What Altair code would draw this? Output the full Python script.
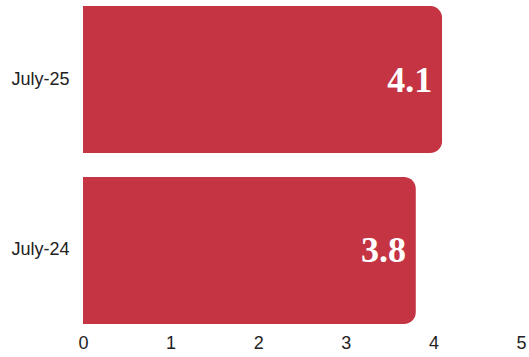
import altair as alt
import pandas as pd

categories = ["July-25", "July-24"]
values = [4.1, 3.8]
labels = ["4.1", "3.8"]

df = pd.DataFrame({"period": categories, "value": values, "label": labels})

y = alt.Y("period:N", sort=categories, title=None,
          scale=alt.Scale(paddingInner=0.14, paddingOuter=0.035),
          axis=alt.Axis(domain=False, ticks=False, labelPadding=14, labelFontSize=18,
                        labelColor="#222", labelFont="Liberation Sans"))
x = alt.X("value:Q", title=None, scale=alt.Scale(domain=[0, 5], nice=False),
          axis=alt.Axis(values=[0, 1, 2, 3, 4, 5], format="d", domain=False, ticks=False,
                        grid=False, labelPadding=4, labelFontSize=18, labelColor="#222",
                        labelFont="Liberation Sans", labelFlush=False))

bars = alt.Chart(df).mark_bar(color="#c53443", cornerRadiusTopRight=12,
                               cornerRadiusBottomRight=12).encode(x=x, y=y)
text = alt.Chart(df).mark_text(align="right", baseline="middle", dx=-10, dy=1,
                                font="Liberation Serif", fontWeight="bold",
                                fontSize=36, color="white").encode(
    x="value:Q", y=alt.Y("period:N", sort=categories), text="label:N")

chart = (bars + text).properties(width=438, height=330).configure_view(stroke=None).properties(
    autosize=alt.AutoSizeParams(type="none"),
    padding={"left": 83, "top": 0, "right": 8, "bottom": 27})

chart.save("out.html", embed_options={"renderer": "svg", "actions": False})
